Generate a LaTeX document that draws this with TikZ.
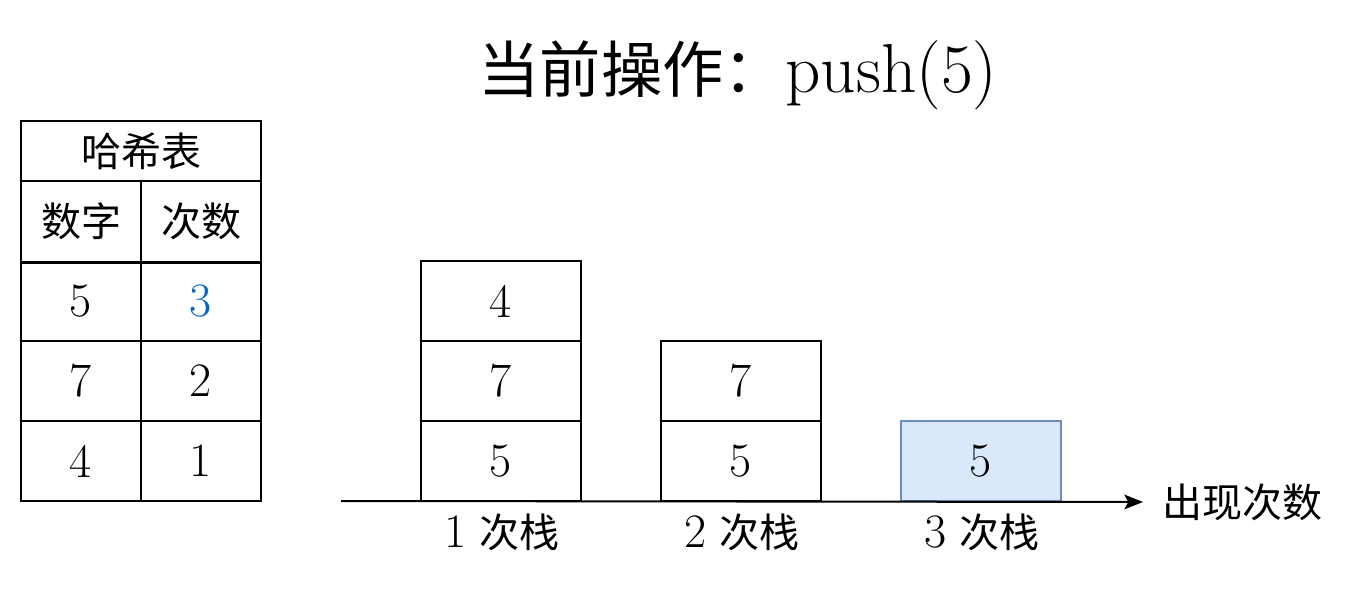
\documentclass[tikz,border=0pt]{standalone}
\usepackage{fontspec}
\newfontfamily\cjk{Noto Sans CJK SC}
\usetikzlibrary{arrows.meta}
\definecolor{hlblue}{HTML}{0066CC}
\definecolor{pushfill}{HTML}{DAE8FC}
\definecolor{pushdraw}{HTML}{6C8EBF}
\newcommand{\cjkbody}{\cjk\fontsize{30}{36}\selectfont}
\newcommand{\numfont}{\fontsize{36}{42}\selectfont}
\begin{document}
\begin{tikzpicture}[x=0.75pt,y=-0.75pt,
  txt/.style={inner sep=0pt},
  cell/.style={draw, line width=1.5pt, inner sep=0pt, minimum width=90pt, font=\numfont},
  box/.style={draw, line width=1.5pt, inner sep=0pt, minimum width=120pt, minimum height=60pt, font=\numfont},
  pushed/.style={box, fill=pushfill, draw=pushdraw}]
\useasboundingbox (0,0) rectangle (1362,592);
% title
\node[inner sep=0pt, anchor=base] (title) at (738,92) {{\cjk\fontsize{46}{52}\selectfont 当前操作：}{\fontsize{52}{60}\selectfont push(5)}};
% hash table
\node[draw, line width=1.5pt, inner sep=0pt, minimum width=180pt, minimum height=45pt, font=\cjkbody] (hdr) at (141,151) {哈希表};
\node[cell, minimum height=61.5pt, font=\cjkbody] (h1) at (81,221.5) {数字};
\node[cell, minimum height=61.5pt, font=\cjkbody] (h2) at (201,221.5) {次数};
\node[cell, minimum height=59.25pt] (a1) at (81,301.5) {5};
\node[cell, minimum height=59.25pt, text=hlblue] (a2) at (201,301.5) {3};
\node[cell, minimum height=60pt] (b1) at (81,381) {7};
\node[cell, minimum height=60pt] (b2) at (201,381) {2};
\node[cell, minimum height=60pt] (c1) at (81,461) {4};
\node[cell, minimum height=60pt] (c2) at (201,461) {1};
% stacks
\node[box] (s1a) at (501,461) {5};
\node[box] (s1b) at (501,381) {7};
\node[box] (s1c) at (501,301) {4};
\node[box] (s2a) at (741,461) {5};
\node[box] (s2b) at (741,381) {7};
\node[pushed] (s3a) at (981,461) {5};
% axis
\coordinate (ax0) at (341,501);
\node[txt, anchor=west, font=\cjkbody] (axl) at (1162,502) {出现次数};
\draw[line width=1.5pt, -{Stealth[length=14pt,width=11pt,inset=3pt]}] (ax0) -- (axl.west -| 1143,501);
% stack labels
\node[txt] (l1) at (502,532) {{\numfont 1}\hspace{9pt}{\cjkbody 次栈}};
\node[txt] (l2) at (742,532) {{\numfont 2}\hspace{9pt}{\cjkbody 次栈}};
\node[txt] (l3) at (982,532) {{\numfont 3}\hspace{9pt}{\cjkbody 次栈}};
\end{tikzpicture}
\end{document}
